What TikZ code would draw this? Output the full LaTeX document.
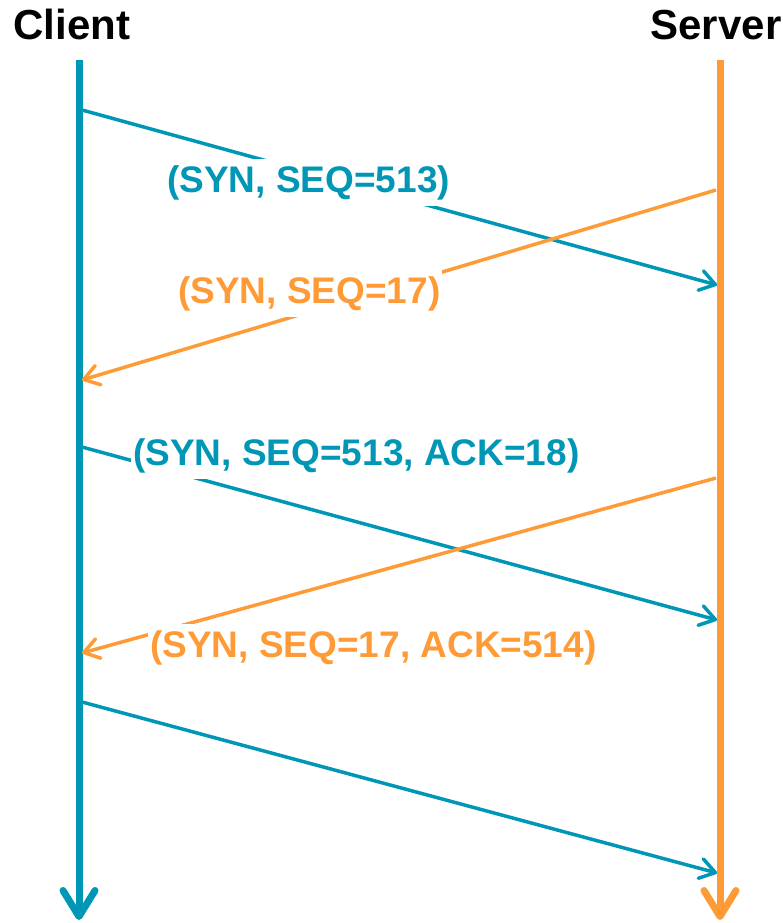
\documentclass[tikz,border=0pt]{standalone}
\usepackage{fontspec}
\setmainfont{Liberation Sans}
\usetikzlibrary{arrows.meta}
\definecolor{cblue}{RGB}{0,150,182}
\definecolor{corange}{RGB}{255,155,55}
\begin{document}
\begin{tikzpicture}[x=1pt,y=-1pt,
  lifeline/.style={line width=7pt, -{Straight Barb[length=26pt,width=32pt,round]}},
  msg/.style={line width=3.5pt, -{Straight Barb[length=15pt,width=20pt,round]}},
  lbl/.style={fill=white, anchor=base west, font=\bfseries\fontsize{37}{40}\selectfont, inner xsep=2pt, inner ysep=6.5pt},
  ttl/.style={anchor=base, font=\bfseries\fontsize{42}{46}\selectfont}]
\useasboundingbox (0,0) rectangle (783,923);
\node[ttl] (client) at (72,40) {Client};
\node[ttl] (server) at (716,40) {Server};
\coordinate (ctop) at (79,60);
\coordinate (cbot) at (79,920);
\coordinate (stop) at (720,60);
\coordinate (sbot) at (720,920);
\draw[lifeline, cblue] (ctop) -- (cbot);
\draw[lifeline, corange] (stop) -- (sbot);
\coordinate (c1) at (82,110);  \coordinate (s1) at (717,285);
\coordinate (s2) at (716,190); \coordinate (c2) at (82,380);
\coordinate (c3) at (82,447);  \coordinate (s3) at (717,620);
\coordinate (s4) at (716,478); \coordinate (c4) at (82,653);
\coordinate (c5) at (82,702);  \coordinate (s5) at (717,873);
\draw[msg, cblue] (c1) -- (s1);
\draw[msg, corange] (s2) -- (c2);
\draw[msg, cblue] (c3) -- (s3);
\draw[msg, corange] (s4) -- (c4);
\draw[msg, cblue] (c5) -- (s5);
\node[lbl, text=cblue] (l1) at (165,192) {(SYN, SEQ=513)};
\node[lbl, text=corange] (l2) at (176,303) {(SYN, SEQ=17)};
\node[lbl, text=cblue] (l3) at (131,465) {(SYN, SEQ=513, ACK=18)};
\node[lbl, text=corange] (l4) at (148,657) {(SYN, SEQ=17, ACK=514)};
\end{tikzpicture}
\end{document}
